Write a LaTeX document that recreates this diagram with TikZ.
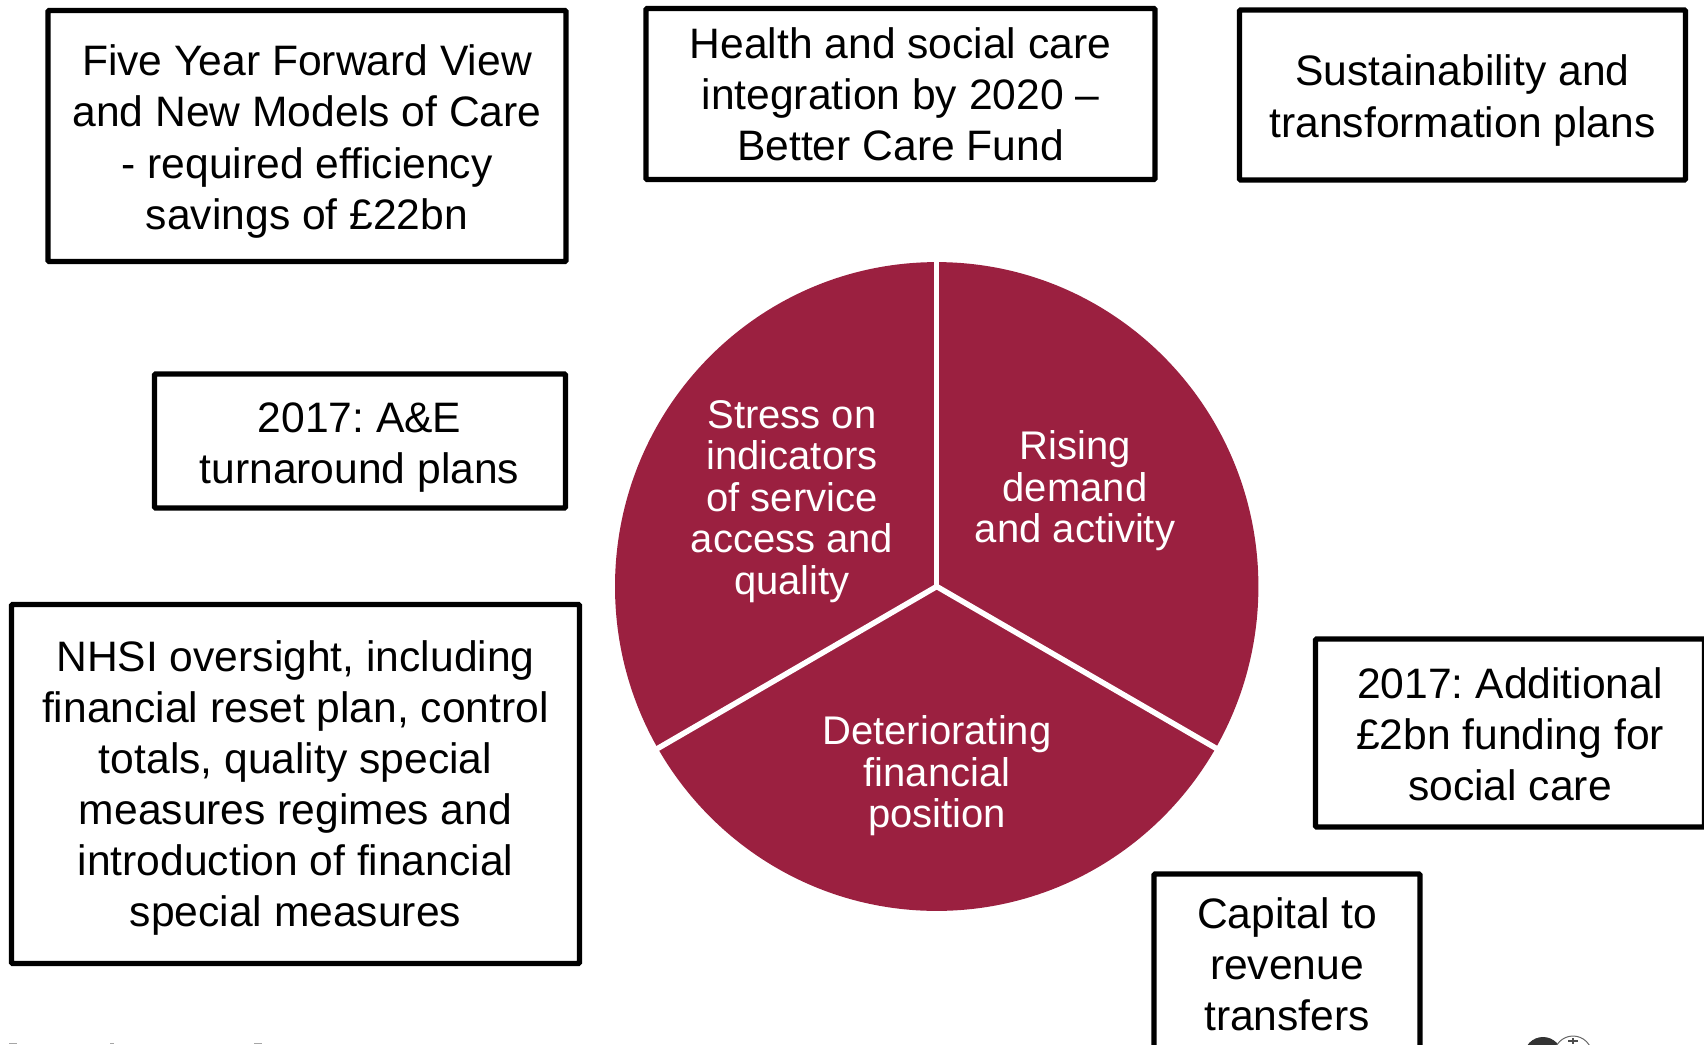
\documentclass[tikz,border=0pt]{standalone}
\usepackage{fontspec}
\setmainfont{Liberation Sans}
\frenchspacing
\definecolor{pie}{HTML}{9B2040}
\tikzset{
  x=1pt,y=-1pt,
  infobox/.style={draw=black,line width=5.2pt,rounded corners=1pt,fill=white,inner sep=0pt},
  boxtext/.style={align=center,text=black,inner sep=0pt,font=\fontsize{42.6}{51.1}\selectfont},
  pielabel/.style={align=center,text=white,inner sep=0pt,font=\fontsize{40}{41.6}\selectfont},
  sep/.style={draw=white,line width=5.5pt},
  fragment/.style={fill=black!35,draw=none}
}
\begin{document}
\begin{tikzpicture}
\useasboundingbox (0,0) rectangle (1704,1044);
\clip (0,0) rectangle (1704,1044);
\coordinate (c) at (936.7,586.5);
\fill[pie] (c) ellipse[x radius=321.7pt,y radius=324.4pt];
\coordinate (p1) at (936.7,258);
\coordinate (p2) at (1219,750);
\coordinate (p3) at (655,750);
\draw[sep] (c) -- (p1);
\draw[sep] (c) -- (p2);
\draw[sep] (c) -- (p3);
\node[pielabel] (n1) at (1075,491) {Rising\\demand\\and activity};
\node[pielabel] (n2) at (792,501.5) {Stress on\\indicators\\of service\\access and\\quality};
\node[pielabel] (n3) at (937,776) {Deteriorating\\financial\\position};
\node[infobox,minimum width=518pt,minimum height=251pt] (a) at (307,136) {};
\node[boxtext] (ta) at (307,141.5) {Five Year Forward View\\and New Models of Care\\- required efficiency\\savings of £22bn};
\node[infobox,minimum width=509pt,minimum height=171pt] (b) at (900.5,94) {};
\node[boxtext] (tb) at (900.5,94.5) {Health and social care\\integration by 2020 –\\Better Care Fund};
\node[infobox,minimum width=446pt,minimum height=170pt] (c2) at (1462.5,95) {};
\node[boxtext] (tc) at (1462.5,100.5) {Sustainability and\\transformation plans};
\node[infobox,minimum width=411pt,minimum height=134pt] (d) at (360,441) {};
\node[boxtext] (td) at (359.5,443) [yshift=-4.5pt] {2017: A\&E\\turnaround plans};
\node[infobox,minimum width=568pt,minimum height=359pt] (e) at (295.5,784) {};
\node[boxtext] (te) at (295.5,788) {NHSI oversight, including\\financial reset plan, control\\totals, quality special\\measures regimes and\\introduction of financial\\special measures};
\node[infobox,minimum width=389pt,minimum height=188pt] (f) at (1510,733) {};
\node[boxtext] (tf) at (1510,734.5) {2017: Additional\\£2bn funding for\\social care};
\node[infobox,minimum width=266pt,minimum height=180pt] (g) at (1287,964) {};
\node[boxtext] (tg) at (1287,964) {Capital to\\revenue\\transfers};
\fill[black!80] (1543,1056) circle[radius=19pt];
\draw[black!60,fill=white,line width=1pt] (1573,1055) circle[radius=19pt];
\draw[black!70,line width=1.5pt] (1573,1038) -- (1573,1044);
\draw[black!70,line width=1.5pt] (1568,1041) -- (1578,1041);
\fill[fragment] (9,1043) rectangle (17,1044);
\fill[fragment] (110,1043) rectangle (114,1044);
\fill[fragment] (254,1043) rectangle (262,1044);
\end{tikzpicture}
\end{document}
